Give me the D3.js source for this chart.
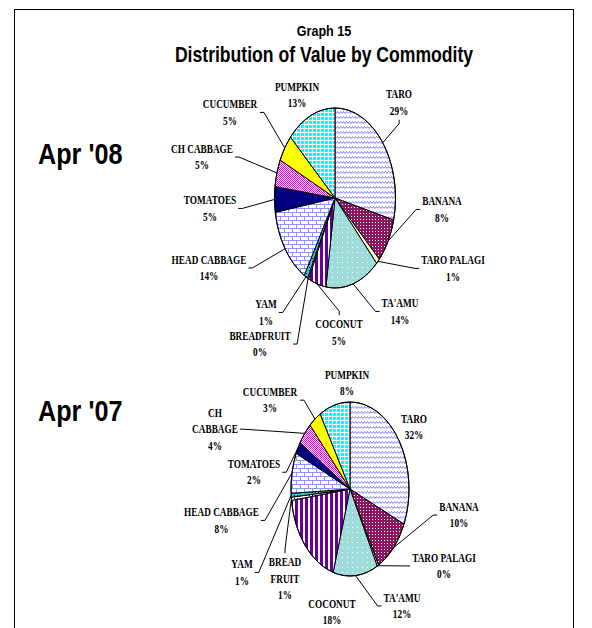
<!DOCTYPE html>
<html lang="en">
<head>
<meta charset="UTF-8">
<title>Graph 15</title>
<script src="https://d3js.org/d3.v7.min.js"></script>
<style>
  body { margin: 0; background: #fff; }
  svg { display: block; }
  .title { font-family: "Liberation Sans", Arial, sans-serif; font-weight: bold; }
  .lbl { font-family: "Liberation Serif", "Times New Roman", serif; font-weight: bold; font-size: 12.5px; }
</style>
</head>
<body>
<svg id="chart" width="592" height="628"></svg>
<script>
// data
const categories = ["TARO", "BANANA", "TARO PALAGI", "TA'AMU", "COCONUT", "BREADFRUIT", "YAM",
                    "HEAD CABBAGE", "TOMATOES", "CH CABBAGE", "CUCUMBER", "PUMPKIN"];
const values08 = [29, 8, 1, 14.5, 4.8, 0.3, 1, 14, 4.6, 4.9, 4.9, 13.2];
const values07 = [31.5, 10.3, 0.4, 12.2, 18.2, 0.6, 0.7, 7.5, 2.2, 4.2, 3.4, 8.4];
const pctLabels08 = ["29%", "8%", "1%", "14%", "5%", "0%", "1%", "14%", "5%", "5%", "5%", "13%"];
const pctLabels07 = ["32%", "10%", "0%", "12%", "18%", "1%", "1%", "8%", "2%", "4%", "3%", "8%"];
const names08 = ["TARO", "BANANA", "TARO PALAGI", "TA'AMU", "COCONUT", "BREADFRUIT", "YAM",
                 "HEAD CABBAGE", "TOMATOES", "CH CABBAGE", "CUCUMBER", "PUMPKIN"];
const names07 = ["TARO", "BANANA", "TARO PALAGI", "TA'AMU", "COCONUT", "BREAD|FRUIT", "YAM",
                 "HEAD CABBAGE", "TOMATOES", "CH|CABBAGE", "CUCUMBER", "PUMPKIN"];
const periods = ["Apr '08", "Apr '07"];

// label layout: offset of first text line from pie centre, side the leader leaves from
const layout08 = [[64, -104, "bottom"], [107, 3, "left"], [118, 62, "left"], [65, 105, "left"],
                  [4, 126, "top"], [-75, 137.6, "right"], [-69, 106, "right"], [-126, 61.5, "right"],
                  [-125, 2, "right"], [-133, -49.4, "right"], [-105, -94, "right"], [-38, -111.5, null]];
const layout07 = [[64, -70.5, null], [109, 17.6, "left"], [94, 68.5, "left"], [52, 108.5, "left"],
                  [-18, 114.5, null], [-65, 73, "top"], [-108, 75, "right"], [-128.5, 23, "right"],
                  [-96, -25.2, "right"], [-135, -76.5, "right"], [-80, -97.3, "right"], [-3, -114.5, null]];

const sliceFills = ["url(#pTaro)", "url(#pBanana)", "#ffffcc", "url(#pTaamu)", "url(#pCoconut)",
                    "url(#pBread)", "url(#pYam)", "url(#pHead)", "#000080", "url(#pCh)", "#ffff00", "url(#pPumpkin)"];

const svg = d3.select("#chart");

// patterns
const defs = svg.append("defs");
function pat(id, w, h, bg) {
  const p = defs.append("pattern").attr("id", id).attr("patternUnits", "userSpaceOnUse")
    .attr("width", w).attr("height", h);
  p.append("rect").attr("width", w).attr("height", h).attr("fill", bg);
  return p;
}
pat("pTaro", 6, 5, "#fff").append("path").attr("d", "M0,3.5L1.5,1.5L3,3.5L4.5,1.5L6,3.5")
  .attr("fill", "none").attr("stroke", "#7373f5").attr("stroke-width", 0.9);
let p = pat("pBanana", 3, 3, "#8e1660");
p.append("rect").attr("width", 1).attr("height", 1).attr("fill", "#fff");
p = pat("pTaamu", 5, 5, "#9edcdc");
p.append("rect").attr("x", 2).attr("y", 2).attr("width", 1).attr("height", 1).attr("fill", "#fff");
p = pat("pCoconut", 5, 5, "#fff");
p.append("rect").attr("width", 3).attr("height", 5).attr("fill", "#660099");
p = pat("pBread", 3, 3, "#fff");
p.append("rect").attr("width", 1).attr("height", 1).attr("fill", "#000");
p = pat("pYam", 3, 3, "#33cccc");
p.append("rect").attr("width", 1).attr("height", 1).attr("fill", "#000080");
pat("pHead", 8, 8, "#fff").append("path")
  .attr("d", "M0,0.5H8M0,4.5H8M0.5,0V4.5M4.5,4.5V8")
  .attr("fill", "none").attr("stroke", "#9292ff").attr("stroke-width", 1);
p = pat("pCh", 2, 2, "#fff");
p.append("rect").attr("width", 1).attr("height", 1).attr("fill", "#ff00ff");
p.append("rect").attr("x", 1).attr("y", 1).attr("width", 1).attr("height", 1).attr("fill", "#ff00ff");
p = pat("pPumpkin", 4, 4, "#00ffff");
p.append("rect").attr("width", 4).attr("height", 1).attr("fill", "#fff");
p.append("rect").attr("width", 1).attr("height", 4).attr("fill", "#fff");

// frame
svg.append("rect").attr("x", 14.5).attr("y", 9.5).attr("width", 559).attr("height", 640)
  .attr("fill", "none").attr("stroke", "#000");

function squeeze(sel, k) {
  sel.each(function () {
    const w = this.getComputedTextLength();
    d3.select(this).attr("textLength", w * k).attr("lengthAdjust", "spacingAndGlyphs");
  });
}

// titles
svg.append("text").attr("class", "title").attr("x", 324).attr("y", 36).attr("text-anchor", "middle")
  .style("font-size", "14px").text("Graph 15").call(squeeze, 0.9);
svg.append("text").attr("class", "title").attr("x", 324).attr("y", 62).attr("text-anchor", "middle")
  .style("font-size", "22px").text("Distribution of Value by Commodity").call(squeeze, 0.8);

const pies = [
  { cx: 335, cy: 198, rx: 60.5, ry: 90, values: values08, pct: pctLabels08, names: names08, layout: layout08, titleY: 164 },
  { cx: 350, cy: 489, rx: 59, ry: 87, values: values07, pct: pctLabels07, names: names07, layout: layout07, titleY: 420.5 }
];

const pieGen = d3.pie().sort(null).value(d => d);

pies.forEach((pc, k) => {
  const ellPt = a => [pc.cx + pc.rx * Math.sin(a), pc.cy - pc.ry * Math.cos(a)];
  const arcs = pieGen(pc.values);

  svg.append("text").attr("class", "title").attr("x", 38).attr("y", pc.titleY)
    .style("font-size", "30px").text(periods[k]).call(squeeze, 0.84);

  const g = svg.append("g");
  g.selectAll("path.slice").data(arcs).join("path")
    .attr("class", "slice")
    .attr("d", d => {
      const [x0, y0] = ellPt(d.startAngle), [x1, y1] = ellPt(d.endAngle);
      const large = d.endAngle - d.startAngle > Math.PI ? 1 : 0;
      return `M${pc.cx},${pc.cy}L${x0},${y0}A${pc.rx},${pc.ry} 0 ${large} 1 ${x1},${y1}Z`;
    })
    .attr("fill", (d, i) => sliceFills[i])
    .attr("stroke", "#000").attr("stroke-width", 1).attr("stroke-linejoin", "round");
  g.append("ellipse").attr("cx", pc.cx).attr("cy", pc.cy).attr("rx", pc.rx).attr("ry", pc.ry)
    .attr("fill", "none").attr("stroke", "#000").attr("stroke-width", 1);

  // labels + leader lines
  arcs.forEach((d, i) => {
    const [dx, dy, side] = pc.layout[i];
    const lx = pc.cx + dx, ly = pc.cy + dy;
    const lg = svg.append("g").attr("transform", `translate(${lx},${ly})`);
    const lines = pc.names[i].split("|").concat([pc.pct[i]]);
    lg.selectAll("text").data(lines).join("text")
      .attr("class", "lbl").attr("x", 0).attr("y", (t, j) => j * 16.5 + 4.2)
      .attr("text-anchor", "middle").text(t => t).call(squeeze, 0.74);
    if (!side) return;
    const bb = lg.node().getBBox(), pad = 2, stub = 4;
    let sx, sy, tx, ty;
    if (side === "right") { sx = bb.x + bb.width + pad; sy = bb.y + bb.height / 2; tx = sx + stub; ty = sy; }
    else if (side === "left") { sx = bb.x - pad; sy = bb.y + bb.height / 2; tx = sx - stub; ty = sy; }
    else if (side === "top") { sx = bb.x + bb.width / 2; sy = bb.y - pad; tx = sx; ty = sy - stub; }
    else { sx = bb.x + bb.width / 2; sy = bb.y + bb.height + pad; tx = sx; ty = sy + stub; }
    const [ex, ey] = ellPt((d.startAngle + d.endAngle) / 2);
    svg.append("path")
      .attr("d", `M${lx + sx},${ly + sy}L${lx + tx},${ly + ty}L${ex},${ey}`)
      .attr("fill", "none").attr("stroke", "#000").attr("stroke-width", 1);
  });
});
</script>
</body>
</html>
